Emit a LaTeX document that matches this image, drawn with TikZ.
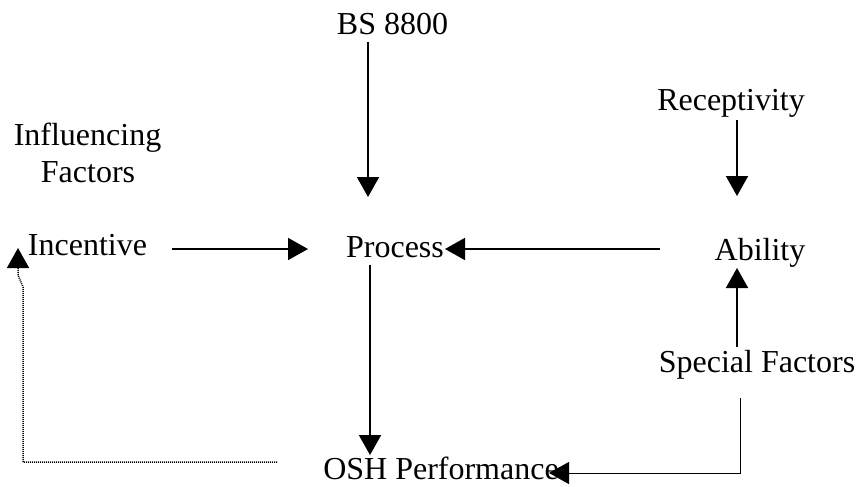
\documentclass[tikz,border=0pt]{standalone}
\usepackage{fontspec}
\setmainfont{Liberation Serif}
\usetikzlibrary{arrows.meta,calc}
\begin{document}
\begin{tikzpicture}[x=1pt,y=-1pt,
  label/.style={inner sep=0pt,anchor=base,font=\fontsize{32}{37}\selectfont},
  flow/.style={line width=1.8pt,-{Triangle[width=22pt,length=20pt]}},
  thinflow/.style={line width=1pt,-{Triangle[width=22pt,length=20pt]}},
  feedback/.style={line width=1.5pt,dash pattern=on 1pt off 1pt,
    -{Triangle[width=22pt,length=20pt]}}]
\useasboundingbox[fill=white] (0,0) rectangle (859,487);

% labels
\node[label] (bs)   at (392.5,35) {BS 8800};
\node[label] (rec)  at (731,110)  {Receptivity};
\node[label] (inf1) at (87.5,145) {Influencing};
\node[label] (inf2) at (88,182)   {Factors};
\node[label] (inc)  at (87.5,255) {Incentive};
\node[label] (proc) at (395,257)  {Process};
\node[label] (abil) at (760,260)  {Ability};
\node[label] (spec) at (757,372)  {Special Factors};
\node[label] (osh)  at (441,479)  {OSH Performance};

% main flows
\draw[flow] ($(bs.base)+(-24.5,7)$) -- ($(proc.base)+(-27,-60)$);
\draw[flow] ($(inc.base)+(84.5,-6)$) -- ($(proc.base)+(-87,-8)$);
\draw[flow] ($(abil.base)+(-100,-11)$) -- ($(proc.base)+(50,-8)$);
\draw[flow] ($(rec.base)+(6,10)$) -- ($(abil.base)+(-23,-64)$);
\draw[flow] ($(spec.base)+(-20,-25)$) -- ($(abil.base)+(-23,8)$);
\draw[flow] ($(proc.base)+(-25,8)$) -- ($(osh.base)+(-71,-24)$);

% special factors to performance
\draw[thinflow] ($(spec.base)+(-17,26)$) |- ($(osh.base)+(108,-6)$);

% feedback from performance to incentive
\draw[feedback] ($(osh.base)+(-164,-17)$) -- ++(-254,0) -- ++(0,-175)
  -- ++(-5,-12) -- ($(inc.base)+(-69.5,-7)$);
\end{tikzpicture}
\end{document}
